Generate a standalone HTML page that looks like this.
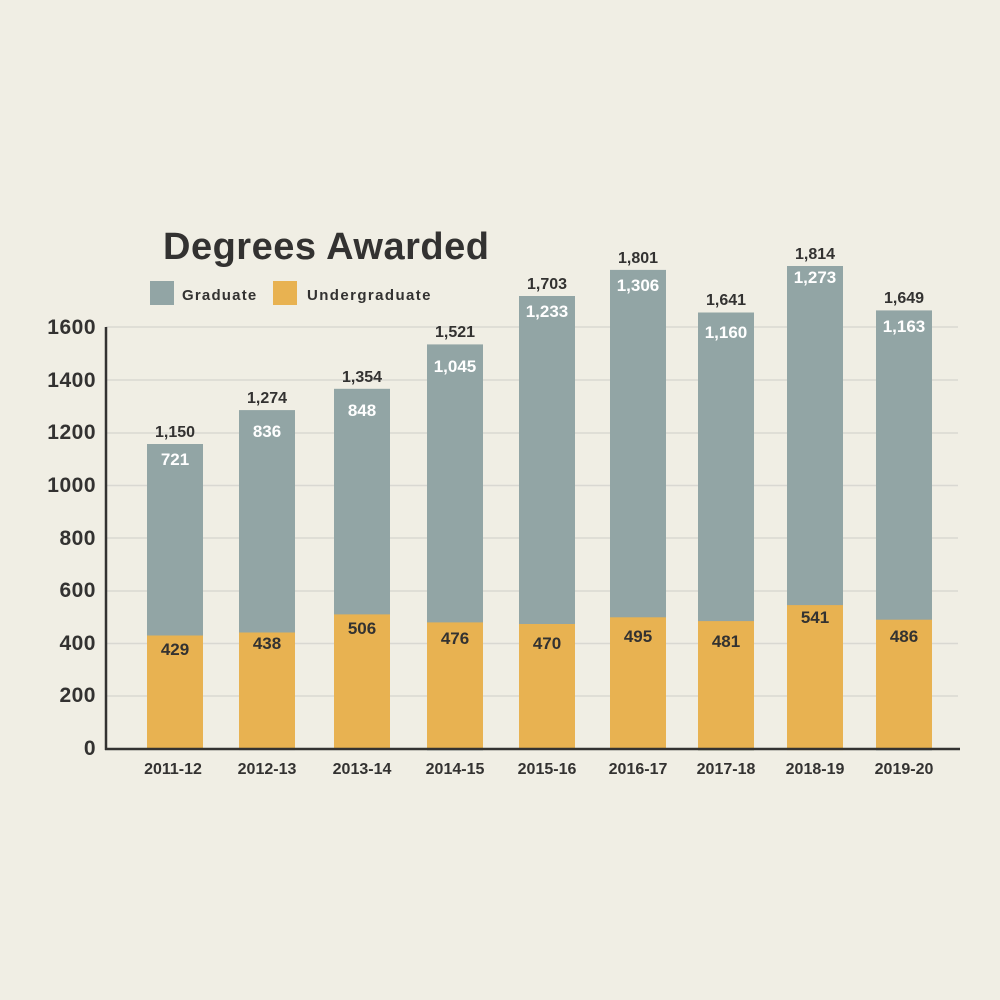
<!DOCTYPE html>
<html><head><meta charset="utf-8"><style>
html,body{margin:0;padding:0;background:#f0eee4;}
svg{display:block;font-family:"Liberation Sans","DejaVu Sans",sans-serif;font-weight:bold;}
</style></head><body>
<svg width="1000" height="1000" viewBox="0 0 1000 1000" xmlns="http://www.w3.org/2000/svg">
<rect width="1000" height="1000" fill="#f0eee4"/>
<g stroke="#d9d8d2" stroke-width="1.5">
<line x1="106" x2="958" y1="327" y2="327"/>
<line x1="106" x2="958" y1="380" y2="380"/>
<line x1="106" x2="958" y1="433" y2="433"/>
<line x1="106" x2="958" y1="485.5" y2="485.5"/>
<line x1="106" x2="958" y1="538" y2="538"/>
<line x1="106" x2="958" y1="591" y2="591"/>
<line x1="106" x2="958" y1="643.5" y2="643.5"/>
<line x1="106" x2="958" y1="696" y2="696"/>
</g>
<text x="163" y="259" font-size="38" letter-spacing="0.5" fill="#333231">Degrees Awarded</text>
<rect x="150" y="281" width="24" height="24" fill="#92a5a5"/>
<text x="182" y="300" font-size="15" letter-spacing="1.2" fill="#333231">Graduate</text>
<rect x="273" y="281" width="24" height="24" fill="#e8b251"/>
<text x="307" y="300" font-size="15" letter-spacing="1.4" fill="#333231">Undergraduate</text>
<g font-size="21" fill="#333231" text-anchor="end" letter-spacing="0.5">
<text x="96" y="334">1600</text><text x="96" y="387">1400</text><text x="96" y="439">1200</text>
<text x="96" y="492">1000</text><text x="96" y="545">800</text><text x="96" y="597">600</text>
<text x="96" y="650">400</text><text x="96" y="702">200</text><text x="96" y="755">0</text>
</g>
<g fill="#92a5a5">
<rect x="147" y="444" width="56" height="306"/><rect x="239" y="410.1" width="56" height="340"/>
<rect x="334" y="388.8" width="56" height="361"/><rect x="427" y="344.4" width="56" height="406"/>
<rect x="519" y="296" width="56" height="454"/><rect x="610" y="269.9" width="56" height="480"/>
<rect x="698" y="312.5" width="56" height="438"/><rect x="787" y="266" width="56" height="484"/>
<rect x="876" y="310.4" width="56" height="440"/>
</g>
<g fill="#e8b251">
<rect x="147" y="635.5" width="56" height="114"/><rect x="239" y="632.5" width="56" height="117"/>
<rect x="334" y="614.4" width="56" height="135"/><rect x="427" y="622.4" width="56" height="127"/>
<rect x="519" y="624" width="56" height="126"/><rect x="610" y="617.3" width="56" height="132"/>
<rect x="698" y="621.1" width="56" height="129"/><rect x="787" y="605.1" width="56" height="145"/>
<rect x="876" y="619.7" width="56" height="130"/>
</g>
<g font-size="16" fill="#333231" text-anchor="middle">
<text x="175" y="437">1,150</text><text x="267" y="403">1,274</text><text x="362" y="382">1,354</text>
<text x="455" y="337">1,521</text><text x="547" y="289">1,703</text><text x="638" y="263">1,801</text>
<text x="726" y="305">1,641</text><text x="815" y="259">1,814</text><text x="904" y="303">1,649</text>
</g>
<g font-size="17" fill="#ffffff" text-anchor="middle">
<text x="175" y="465">721</text><text x="267" y="437">836</text><text x="362" y="416">848</text>
<text x="455" y="372">1,045</text><text x="547" y="317">1,233</text><text x="638" y="291">1,306</text>
<text x="726" y="338">1,160</text><text x="815" y="283">1,273</text><text x="904" y="332">1,163</text>
</g>
<g font-size="17" fill="#333231" text-anchor="middle">
<text x="175" y="655">429</text><text x="267" y="649">438</text><text x="362" y="634">506</text>
<text x="455" y="644">476</text><text x="547" y="649">470</text><text x="638" y="642">495</text>
<text x="726" y="647">481</text><text x="815" y="623">541</text><text x="904" y="642">486</text>
</g>
<line x1="106" y1="327" x2="106" y2="750" stroke="#333231" stroke-width="2.5"/>
<line x1="105" y1="749" x2="960" y2="749" stroke="#333231" stroke-width="2.5"/>
<g font-size="16" fill="#333231" text-anchor="middle">
<text x="173" y="774">2011-12</text><text x="267" y="774">2012-13</text><text x="362" y="774">2013-14</text>
<text x="455" y="774">2014-15</text><text x="547" y="774">2015-16</text><text x="638" y="774">2016-17</text>
<text x="726" y="774">2017-18</text><text x="815" y="774">2018-19</text><text x="904" y="774">2019-20</text>
</g>
</svg>
</body></html>
